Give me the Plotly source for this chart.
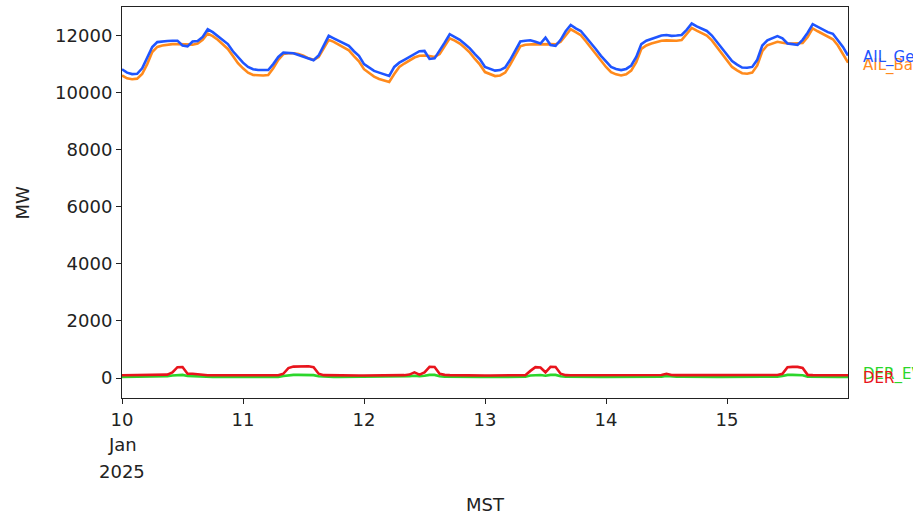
import pandas as pd
import plotly.graph_objects as go

# Hourly readings, 2025-01-10 00:00 through 2025-01-16 00:00 (MST)
start = "2025-01-10 00:00"
n_points = 145

ail_gen = [
    # Jan 10
    10817, 10700, 10650, 10660, 10850, 11200, 11600, 11770, 11800, 11810, 11820, 11820,
    11650, 11620, 11790, 11810, 11950, 12220, 12120, 11990, 11850, 11700, 11450, 11230,
    # Jan 11
    11050, 10900, 10820, 10790, 10780, 10790, 11000, 11250, 11400, 11400, 11380, 11320,
    11250, 11180, 11135, 11300, 11650, 11990, 11900, 11815, 11720, 11640, 11450, 11290,
    # Jan 12
    11000, 10880, 10760, 10700, 10640, 10585, 10900, 11050, 11150, 11250, 11350, 11450,
    11460, 11180, 11200, 11460, 11750, 12046, 11950, 11850, 11700, 11550, 11350, 11170,
    # Jan 13
    10900, 10840, 10770, 10790, 10880, 11150, 11450, 11790, 11820, 11835, 11780, 11720,
    11930, 11670, 11640, 11850, 12150, 12370, 12250, 12160, 11950, 11750, 11520, 11290,
    # Jan 14
    11100, 10900, 10830, 10790, 10830, 10950, 11250, 11700, 11820, 11880, 11950, 12000,
    12020, 11990, 12000, 12020, 12200, 12420, 12320, 12240, 12160, 12000, 11780, 11520,
    # Jan 15
    11300, 11110, 10980, 10880, 10870, 10900, 11150, 11650, 11830, 11900, 11980, 11900,
    11720, 11700, 11670, 11850, 12100, 12400, 12300, 12220, 12120, 12060, 11850, 11600,
    # Jan 16 00:00
    11300,
]

ail_base = [
    10600, 10500, 10470, 10490, 10650, 11000, 11420, 11600, 11650, 11680, 11700, 11700,
    11700, 11680, 11680, 11720, 11850, 12070, 11980, 11850, 11700, 11530, 11280, 11030,
    10850, 10700, 10620, 10600, 10600, 10620, 10850, 11150, 11350, 11380, 11380, 11350,
    11290, 11200, 11150, 11250, 11550, 11850, 11780, 11680, 11570, 11480, 11280, 11100,
    10820, 10680, 10560, 10480, 10420, 10370, 10650, 10900, 11020, 11120, 11230, 11290,
    11300, 11280, 11250, 11350, 11620, 11900, 11820, 11720, 11570, 11400, 11180, 10980,
    10720, 10640, 10580, 10600, 10700, 10980, 11300, 11620, 11680, 11700, 11700, 11690,
    11700, 11700, 11690, 11780, 12000, 12220, 12120, 12010, 11800, 11580, 11350, 11100,
    10900, 10720, 10640, 10600, 10640, 10770, 11070, 11530, 11650, 11720, 11780, 11820,
    11830, 11820, 11820, 11840, 12050, 12270, 12170, 12080, 12000, 11830, 11600, 11330,
    11100, 10900, 10780, 10680, 10660, 10700, 10950, 11450, 11660, 11730, 11780, 11750,
    11720, 11720, 11720, 11740, 11950, 12250, 12150, 12060, 11960, 11870, 11650, 11350,
    11050,
]

der = [
    95, 95, 95, 95, 95, 95, 95, 95, 100, 120, 200, 380,
    385, 150, 150, 130, 100, 95, 95, 95, 95, 95, 95, 90,
    90, 90, 90, 90, 90, 90, 90, 95, 150, 350, 400, 410,
    410, 410, 380, 150, 100, 95, 95, 95, 95, 95, 90, 90,
    90, 90, 90, 90, 90, 90, 90, 95, 100, 120, 200, 120,
    200, 390, 385, 150, 110, 100, 95, 95, 95, 95, 90, 90,
    90, 90, 90, 90, 90, 90, 90, 95, 100, 250, 380, 370,
    200, 390, 385, 150, 100, 95, 95, 95, 95, 95, 90, 90,
    90, 90, 90, 90, 90, 90, 90, 95, 100, 100, 100, 105,
    150, 105, 100, 100, 95, 95, 95, 95, 95, 95, 90, 90,
    90, 90, 90, 90, 90, 90, 90, 95, 100, 100, 105, 150,
    380, 390, 390, 350, 110, 100, 95, 95, 95, 95, 95, 95,
    95,
]

ders_evs = [
    40, 40, 40, 40, 40, 40, 40, 40, 45, 60, 90, 110,
    110, 70, 60, 50, 45, 40, 40, 40, 40, 40, 40, 35,
    35, 35, 35, 35, 35, 35, 35, 40, 70, 100, 110, 110,
    110, 110, 100, 60, 45, 40, 40, 40, 40, 40, 35, 35,
    35, 35, 35, 35, 35, 35, 35, 40, 45, 60, 80, 60,
    80, 110, 110, 60, 45, 40, 40, 40, 40, 40, 35, 35,
    35, 35, 35, 35, 35, 35, 35, 40, 45, 90, 110, 105,
    80, 110, 110, 60, 45, 40, 40, 40, 40, 40, 35, 35,
    35, 35, 35, 35, 35, 35, 35, 40, 45, 45, 45, 50,
    70, 50, 45, 45, 40, 40, 40, 40, 40, 40, 35, 35,
    35, 35, 35, 35, 35, 35, 35, 40, 45, 45, 50, 70,
    110, 110, 110, 100, 50, 45, 40, 40, 40, 40, 40, 40,
    40,
]

day_ticks = ["2025-01-10", "2025-01-11", "2025-01-12", "2025-01-13", "2025-01-14", "2025-01-15"]
day_labels = ["10", "11", "12", "13", "14", "15"]
first_day_extra = ["Jan", "2025"]
mw_ticks = [0, 2000, 4000, 6000, 8000, 10000, 12000]
mw_labels = [str(v) for v in mw_ticks]

times = pd.date_range(start, periods=n_points, freq="h")

# (name, values, colour, label y-shift in px)
series = [
    ("AIL_Base", ail_base, "#ff8a1c", -3),
    ("AIL_Gen", ail_gen, "#1f55ff", -2),
    ("DER_EVs", ders_evs, "#2bd62b", 2),
    ("DER", der, "#e8141c", -3),
]

FONT = "DejaVu Sans"
INK = "#222"
TICK_SIZE = 18

fig = go.Figure()
for name, vals, color, _ in series:
    fig.add_trace(go.Scatter(x=times, y=vals, mode="lines", name=name,
                             line=dict(color=color, width=2.6), showlegend=False))

# end-of-line labels just outside the right edge of the axes
for name, vals, color, shift in series:
    fig.add_annotation(x=1.018, xref="paper", y=vals[-1], yref="y", yshift=shift,
                       text=name, showarrow=False, xanchor="left", yanchor="middle",
                       font=dict(family=FONT, size=15, color=color))

# month / year under the first day tick
for i, txt in enumerate(first_day_extra):
    fig.add_annotation(x=day_ticks[0], xref="x", y=0, yref="paper", yshift=-46 - 27 * i,
                       text=txt, showarrow=False, xanchor="center", yanchor="middle",
                       font=dict(family=FONT, size=TICK_SIZE, color=INK))

# axis titles
fig.add_annotation(x=0.5, xref="paper", y=0, yref="paper", yshift=-106,
                   text="MST", showarrow=False, xanchor="center", yanchor="middle",
                   font=dict(family=FONT, size=TICK_SIZE, color=INK))
fig.add_annotation(x=0, xref="paper", y=0.5, yref="paper", xshift=-100,
                   text="MW", textangle=-90, showarrow=False, xanchor="center", yanchor="middle",
                   font=dict(family=FONT, size=TICK_SIZE, color=INK))

axis_common = dict(showline=True, linecolor=INK, linewidth=1.1, mirror=True,
                   ticks="outside", ticklen=5, tickwidth=1, tickcolor=INK,
                   showgrid=False, zeroline=False,
                   tickfont=dict(family=FONT, size=TICK_SIZE, color=INK))

fig.update_xaxes(range=[times[0], times[-1]], tickvals=day_ticks, ticktext=day_labels,
                 **axis_common)
fig.update_yaxes(range=[-700, 13000], tickvals=mw_ticks, ticktext=mw_labels,
                 **axis_common)

fig.update_layout(width=913, height=513, plot_bgcolor="white", paper_bgcolor="white",
                  margin=dict(l=122, r=65, t=7, b=115), font=dict(family=FONT))

fig.write_html("out.html")
